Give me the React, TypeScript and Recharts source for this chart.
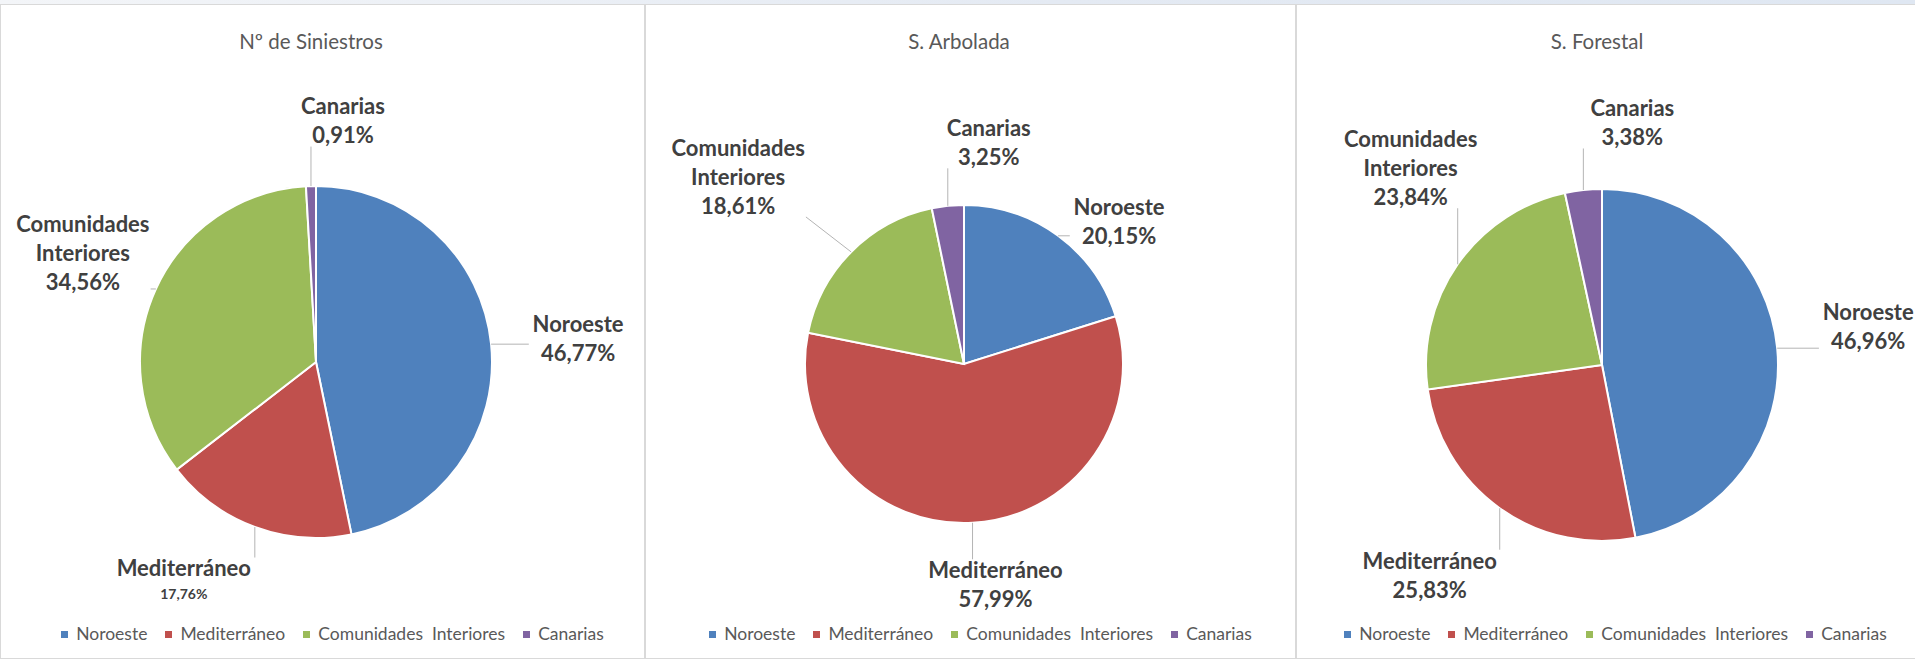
import React from 'react';
import { PieChart, Pie, Cell, Legend } from 'recharts';

const regions = ['Noroeste', 'Mediterráneo', 'Comunidades  Interiores', 'Canarias'];
const siniestros = [46.77, 17.76, 34.56, 0.91];
const arbolada = [20.15, 57.99, 18.61, 3.25];
const forestal = [46.96, 25.83, 23.84, 3.38];
const titles = ['Nº de Siniestros', 'S. Arbolada', 'S. Forestal'];
const colors = ['#4F81BD', '#C0504D', '#9BBB59', '#8064A2'];

const FONT = 'Lato, "Open Sans", sans-serif';
const RAD = Math.PI / 180;

// offsets = label block centre relative to the point where the leader leaves the slice
const layouts = [
  { left: 0, width: 645, cx: 316, cy: 362, r: 176, offsets: [[87, -6], [-71, 54], [-73, -36], [32, -65]], smallPct: 1 },
  { left: 645, width: 651, cx: 319, cy: 364, r: 159, offsets: [[61, -14], [23, 62], [-113, -75], [41, -63]], smallPct: -1 },
  { left: 1296, width: 619, cx: 306, cy: 365, r: 176, offsets: [[91, -22], [-70, 67], [-47, -96], [49, -67]], smallPct: -1 },
];
const series = [siniestros, arbolada, forestal];

function makeLabel(offsets: number[][], smallPct: number) {
  return (props: any) => {
    const { cx, cy, midAngle, outerRadius, index, value } = props;
    const name = props.payload?.name ?? props.name;
    const px = cx + outerRadius * Math.cos(-midAngle * RAD);
    const py = cy + outerRadius * Math.sin(-midAngle * RAD);
    const [dx, dy] = offsets[index];
    const lx = px + dx;
    const ly = py + dy;
    const pct = Number(value).toFixed(2).replace('.', ',') + '%';
    const lines = [
      ...String(name).split(/\s+/).map((t) => ({ t, size: 22 })),
      { t: pct, size: index === smallPct ? 14 : 22 },
    ];
    const gaps = lines.slice(1).map((l) => (l.size < 22 ? 25 : 29));
    const total = gaps.reduce((a, b) => a + b, 0);
    let y = ly - total / 2;
    const ys = lines.map((_, i) => {
      if (i > 0) y += gaps[i - 1];
      return y;
    });
    const w = Math.max(...lines.map((l) => l.t.length * l.size * 0.56));
    const top = ys[0] - 11;
    const bottom = ys[ys.length - 1] + 11;
    const qx = Math.min(Math.max(px, lx - w / 2), lx + w / 2);
    const qy = Math.min(Math.max(py, top), bottom);
    const dist = Math.hypot(qx - px, qy - py);
    return (
      <g>
        {dist > 4 && (
          <line x1={px} y1={py} x2={qx} y2={qy} stroke="#b4b4b4" strokeWidth={1} />
        )}
        <text textAnchor="middle" fontFamily={FONT} fontWeight={700} fill="#404040">
          {lines.map((l, i) => (
            <tspan key={i} x={lx} y={ys[i] + l.size * 0.36} fontSize={l.size}>
              {l.t}
            </tspan>
          ))}
        </text>
      </g>
    );
  };
}

function renderLegend(props: any) {
  const items = [...(props.payload || [])].sort(
    (a: any, b: any) => regions.indexOf(a.value) - regions.indexOf(b.value)
  );
  return (
    <div
      style={{
        display: 'flex',
        justifyContent: 'center',
        paddingLeft: 20,
        fontFamily: FONT,
        fontSize: 17.5,
        lineHeight: '24px',
        color: '#595959',
      }}
    >
      {items.map((e: any, i: number) => (
        <span
          key={i}
          style={{ display: 'flex', alignItems: 'center', marginRight: i < items.length - 1 ? 18 : 0, whiteSpace: 'pre' }}
        >
          <span
            style={{
              width: 7,
              height: 7,
              background: e.color ?? colors[regions.indexOf(e.value)],
              marginRight: 8,
              display: 'inline-block',
            }}
          />
          {e.value}
        </span>
      ))}
    </div>
  );
}

function Panel({ idx }: { idx: number }) {
  const lay = layouts[idx];
  const data = regions.map((name, i) => ({ name, value: series[idx][i] }));
  return (
    <div style={{ position: 'absolute', left: lay.left, top: 0, width: lay.width, height: 660 }}>
      <div
        style={{
          position: 'absolute',
          left: lay.cx - 5 - 200,
          width: 400,
          top: 29,
          textAlign: 'center',
          fontFamily: FONT,
          fontSize: 20.5,
          lineHeight: '24px',
          color: '#595959',
          zIndex: 2,
        }}
      >
        {titles[idx]}
      </div>
      <PieChart width={lay.width} height={660} margin={{ top: 0, right: 0, bottom: 0, left: 0 }}>
        <Pie
          data={data}
          dataKey="value"
          nameKey="name"
          cx={lay.cx}
          cy={lay.cy}
          outerRadius={lay.r}
          startAngle={90}
          endAngle={-270}
          stroke="#ffffff"
          strokeWidth={2}
          label={makeLabel(lay.offsets, lay.smallPct)}
          labelLine={false}
          isAnimationActive={false}
        >
          {data.map((_, i) => (
            <Cell key={i} fill={colors[i]} />
          ))}
        </Pie>
        <Legend
          content={renderLegend}
          wrapperStyle={{ position: 'absolute', left: 0, top: 622, width: lay.width, bottom: 'auto' }}
        />
      </PieChart>
    </div>
  );
}

export default function App() {
  return (
    <div style={{ position: 'absolute', left: 0, top: 0, width: 1915, height: 660, background: '#ffffff', overflow: 'hidden' }}>
      <div
        style={{
          position: 'absolute',
          left: 0,
          top: 0,
          width: 1915,
          height: 4,
          background: 'linear-gradient(to right, #f3f5f8, #e4eaf3 55%, #dfe7f2)',
        }}
      />
      <div style={{ position: 'absolute', left: 0, top: 4, width: 645, height: 655, boxSizing: 'border-box', border: '1px solid #d9d9d9' }} />
      <div style={{ position: 'absolute', left: 645, top: 4, width: 651, height: 655, boxSizing: 'border-box', border: '1px solid #d9d9d9' }} />
      <div style={{ position: 'absolute', left: 1296, top: 4, width: 640, height: 655, boxSizing: 'border-box', border: '1px solid #d9d9d9' }} />
      {[0, 1, 2].map((i) => (
        <Panel key={i} idx={i} />
      ))}
    </div>
  );
}
